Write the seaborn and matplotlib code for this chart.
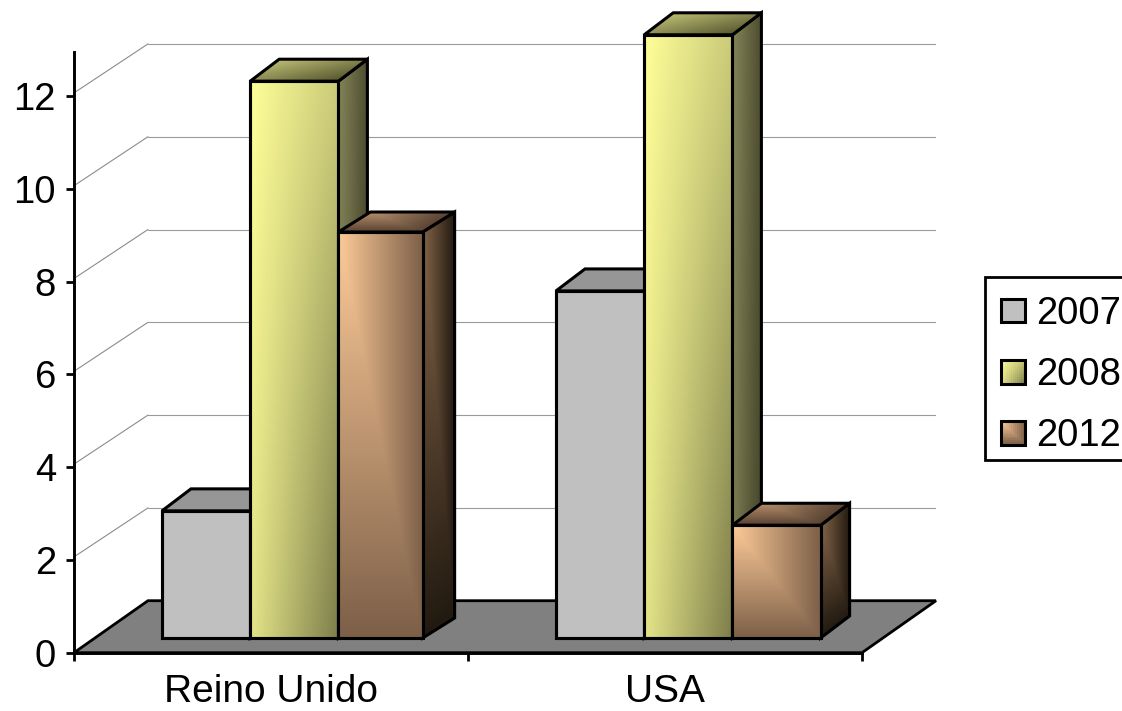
import numpy as np
import pandas as pd
import matplotlib
matplotlib.use("Agg")
import matplotlib.pyplot as plt
import seaborn as sns
from matplotlib.colors import to_rgb
from matplotlib.legend_handler import HandlerBase
from matplotlib.lines import Line2D
from matplotlib.patches import Patch, Polygon, Rectangle
from matplotlib.transforms import Affine2D, IdentityTransform

# Values per country and year
countries = ["Reino Unido", "USA"]
years = ["2007", "2008", "2012"]
values_2007 = [2.74, 7.48]
values_2008 = [12.0, 13.0]
values_2012 = [8.75, 2.43]
y_ticks = [0, 2, 4, 6, 8, 10, 12]


# Shading ramps over a face, u across and v down, both in 0..1
def flat(u, v):
    return np.zeros_like(u)


def sheen(u, v):
    return 0.4 * u + 0.2 * v + 0.4 * u * v


def corner(u, v):
    return np.maximum(u, v)


def across(u, v):
    return 0.85 * u + 0.15 * v


def blend(u, v):
    return 0.55 * u + 0.45 * v


face_styles = {
    "2007": {"front": ("#C0C0C0", "#C0C0C0", flat),
             "side": ("#606060", "#606060", flat),
             "top": ("#969696", "#969696", flat)},
    "2008": {"front": ("#FFFF99", "#7C7C4A", sheen),
             "side": ("#85855A", "#45452A", across),
             "top": ("#BDBD75", "#55552F", blend)},
    "2012": {"front": ("#FFCC99", "#7C5F48", corner),
             "side": ("#836449", "#211910", corner),
             "top": ("#B8906C", "#574232", corner)},
}

W, H = 1122, 711
PX_PER_UNIT = 46.4
BASE_Y = 652.7      # image row of value 0 on the front axis
AXIS_LEFT, AXIS_RIGHT = 74, 862
Y_MAX = 12.95
BAR_SHIFT = (23.3, 14.7)
BACK_SHIFT = (74, 52)
BAR_DEPTH = (29, 22)
EDGE = 2.2

sns.set_theme(style="white")
plt.rcParams["font.family"] = ["Liberation Sans", "DejaVu Sans"]
plt.rcParams["text.color"] = "black"
plt.rcParams["xtick.color"] = "black"
plt.rcParams["ytick.color"] = "black"

fig = plt.figure(figsize=(W / 100, H / 100), dpi=100, facecolor="white")


def plot_axes(shift, z):
    left = (AXIS_LEFT + shift[0]) / W
    bottom = (H - BASE_Y + shift[1]) / H
    ax = fig.add_axes([left, bottom, (AXIS_RIGHT - AXIS_LEFT) / W,
                       Y_MAX * PX_PER_UNIT / H], zorder=z)
    ax.set_xlim(-0.5, 1.5)
    ax.set_ylim(0, Y_MAX)
    ax.patch.set_visible(False)
    return ax


ax_back = plot_axes(BACK_SHIFT, 1)
ax_front = plot_axes((0, 0), 2)
ax_bars = plot_axes(BAR_SHIFT, 3)

# Back wall gridlines
ax_back.set_yticks(y_ticks[1:])
ax_back.set_xticks([])
ax_back.tick_params(left=False, labelleft=False)
ax_back.grid(axis="y", color="#9A9A9A", lw=0.8)
ax_back.grid(axis="x", visible=False)
sns.despine(ax=ax_back, left=True, bottom=True)

# Side wall lines and floor joining the front axis to the back wall
for tick in y_ticks[1:]:
    a = ax_front.transData.transform((-0.5, tick))
    b = ax_back.transData.transform((-0.5, tick))
    ax_back.add_line(Line2D([a[0], b[0]], [a[1] + 3, b[1]], color="#8C8C8C", lw=0.8,
                            transform=IdentityTransform(), clip_on=False))
floor_points = [ax_front.transData.transform((-0.5, 0)),
                ax_back.transData.transform((-0.5, 0)),
                ax_back.transData.transform((1.5, 0)),
                ax_front.transData.transform((1.5, 0))]
ax_back.add_patch(Polygon(floor_points, closed=True, facecolor="#808080", edgecolor="black",
                          lw=2.0, transform=IdentityTransform(), clip_on=False))

# Front axis with ticks; category labels sit between the major ticks
ax_front.set_yticks(y_ticks)
ax_front.set_xticks([-0.5, 0.5, 1.5])
ax_front.set_xticklabels([])
ax_front.set_xticks([0, 1], countries, minor=True)
ax_front.tick_params(axis="y", which="major", left=True, length=5.5, width=2, labelsize=27.5, pad=7.5)
ax_front.tick_params(axis="x", which="major", bottom=True, length=5.5, width=2)
ax_front.tick_params(axis="x", which="minor", bottom=False, labelsize=28, pad=11.5)
sns.despine(ax=ax_front)
for side in ("left", "bottom"):
    ax_front.spines[side].set_color("black")
    ax_front.spines[side].set_linewidth(2.1)

# Bars
frame = pd.DataFrame({
    "country": countries * 3,
    "year": [y for y in years for _ in countries],
    "value": values_2007 + values_2008 + values_2012,
})
sns.barplot(data=frame, x="country", y="value", hue="year", ax=ax_bars,
            order=countries, hue_order=years, width=0.6716, gap=0,
            palette=[face_styles[y]["front"][0] for y in years],
            edgecolor="black", linewidth=EDGE, legend=False, saturation=1)
ax_bars.set_xlim(-0.5, 1.5)
ax_bars.set_ylim(0, Y_MAX)
ax_bars.set_axis_off()


def gradient(c0, c1, shade, n=96):
    u, v = np.meshgrid((np.arange(n) + 0.5) / n, (np.arange(n) + 0.5) / n)
    t = shade(u, v)[..., None]
    return np.array(to_rgb(c0)) * (1 - t) + np.array(to_rgb(c1)) * t


def draw_face(origin, ex, ey, style, z):
    """Paint a shaded parallelogram given in display pixels, with its outline."""
    c0, c1, shade = style
    origin, ex, ey = map(np.asarray, (origin, ex, ey))
    corners = [origin, origin + ex, origin + ex + ey, origin + ey]
    placed = Affine2D.from_values(ex[0], ex[1], ey[0], ey[1], origin[0], origin[1])
    image = ax_bars.imshow(gradient(c0, c1, shade), extent=(0, 1, 0, 1), origin="lower", aspect="auto",
                           interpolation="bilinear", transform=placed, zorder=z)
    image.set_clip_box(fig.bbox)
    image.set_clip_path(Polygon(corners, closed=True, transform=IdentityTransform()))
    ax_bars.add_patch(Polygon(corners, closed=True, facecolor="none", edgecolor="black", lw=EDGE,
                              joinstyle="miter", transform=IdentityTransform(),
                              clip_on=False, zorder=z + 0.1))


# The tall British 2012 bar is a little narrower and deeper than the others
bars_by_year = {y: list(c) for y, c in zip(years, ax_bars.containers)}
narrow_bar = bars_by_year["2012"][0]
narrow_bar.set_width(narrow_bar.get_width() * 0.955)

# Extrude the bars, left to right so each bar hides the side of the previous one
z = 10
for c in range(len(countries)):
    for year in years:
        bar = bars_by_year[year][c]
        style = face_styles[year]
        depth = np.array((32.0, 20.0) if bar is narrow_bar else BAR_DEPTH, dtype=float)
        x0, y0 = ax_bars.transData.transform((bar.get_x(), 0))
        x1, y1 = ax_bars.transData.transform((bar.get_x() + bar.get_width(), bar.get_height()))
        width = np.array([x1 - x0, 0.0])
        height = np.array([0.0, y1 - y0])
        draw_face((x1, y1), depth, -height, style["side"], z)
        draw_face(np.array([x0, y1]) + depth, width, -depth, style["top"], z + 1)
        draw_face((x0, y1), width, -height, style["front"], z + 2)
        bar.set_facecolor("none")
        bar.set_clip_on(False)
        bar.set_zorder(z + 3)
        z += 4
ax_bars.set_xlim(-0.5, 1.5)
ax_bars.set_ylim(0, Y_MAX)


class ShadedSwatch(HandlerBase):
    """Legend key filled with the same ramp as the bars' front faces."""

    def __init__(self, style):
        super().__init__()
        self.style = style

    def create_artists(self, legend, orig_handle, xdescent, ydescent, width, height, fontsize, trans):
        n = 12
        rgb = gradient(*self.style, n=n)
        artists = []
        for i in range(n):
            for j in range(n):
                artists.append(Rectangle((-xdescent + j * width / n, -ydescent + height - (i + 1) * height / n),
                                         width / n + 0.3, height / n + 0.3, facecolor=rgb[i, j],
                                         edgecolor="none", lw=0, transform=trans))
        artists.append(Rectangle((-xdescent, -ydescent), width, height, facecolor="none",
                                 edgecolor="black", lw=EDGE, transform=trans))
        return artists


# Legend box runs off the right edge of the figure
fig.add_artist(Rectangle((985, H - 460), 160, 183, facecolor="white", edgecolor="black", lw=2.0,
                         transform=IdentityTransform(), zorder=4))
handles = [Patch(facecolor=face_styles[y]["front"][0], edgecolor="black", label=y) for y in years]
fig.legend(handles=handles, labels=years, loc="upper left",
           bbox_to_anchor=(985 / W, 1 - 280 / H), bbox_transform=fig.transFigure,
           fontsize=27.5, frameon=False, borderaxespad=0, borderpad=0.42, labelspacing=0.66,
           handlelength=0.63, handleheight=0.58, handletextpad=0.28,
           handler_map={h: ShadedSwatch(face_styles[y]["front"]) for h, y in zip(handles, years)})

fig.savefig("out.png", dpi=100)
